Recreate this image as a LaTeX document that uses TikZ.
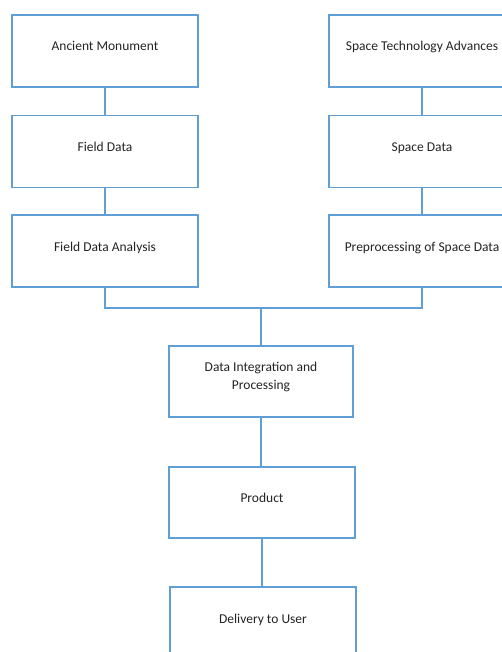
\documentclass[tikz,border=0pt]{standalone}
\usepackage{fontspec}
\setmainfont{Carlito}
\definecolor{boxblue}{RGB}{96,158,214}
\definecolor{txt}{RGB}{35,35,35}
\begin{document}
\begin{tikzpicture}[x=1pt,y=-1pt,
  box/.style={draw=boxblue, line width=1.3pt, minimum width=186pt, minimum height=72pt,
    inner sep=0pt, text=txt, font=\fontsize{13.5}{18}\selectfont,
    text height=0pt, text depth=0pt},
  link/.style={draw=boxblue, line width=1.3pt}]
\useasboundingbox (0,0) rectangle (502,652);
\clip (0,0) rectangle (502,652);
\node[box] (am) at (105,51) {Ancient Monument};
\node[box] (fd) at (105,151.5) {Field Data};
\node[box] (fda) at (105,251) {Field Data Analysis};
\node[box] (sta) at (422,51) {Space Technology Advances};
\node[box] (sd) at (422,151.5) {Space Data};
\node[box] (pre) at (422,251) {Preprocessing of Space Data};
\node[box, minimum width=184pt, minimum height=71pt] (dip) at (261,381.5)
  {\raisebox{-7.8pt}[0pt][0pt]{\begin{tabular}[b]{@{}c@{}}Data Integration and\\Processing\end{tabular}}};
\node[box, minimum height=71pt] (prod) at (262,502.5) {Product};
\node[box] (del) at (263,623) {Delivery to User};
\coordinate (join) at (261,308);
\draw[link] (am) -- (fd);
\draw[link] (fd) -- (fda);
\draw[link] (sta) -- (sd);
\draw[link] (sd) -- (pre);
\draw[link] (fda.south) |- (join) -| (pre.south);
\draw[link] (join) -- (join |- dip.north);
\draw[link] (prod.north -| dip.south) -- (dip.south);
\draw[link] (prod.south) -- (prod.south |- del.north);
\end{tikzpicture}
\end{document}
